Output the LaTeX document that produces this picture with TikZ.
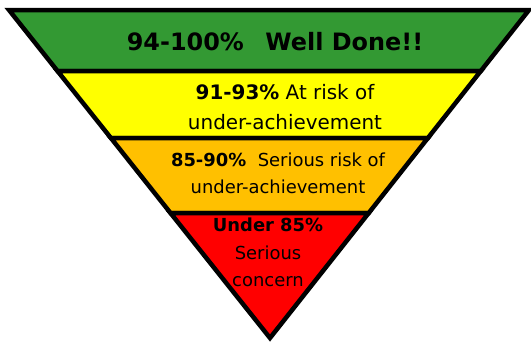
\documentclass[tikz,border=0pt]{standalone}
\usepackage{fontspec}
\setmainfont{DejaVu Sans}
\definecolor{welldone}{HTML}{339933}
\definecolor{atrisk}{HTML}{FFFF00}
\definecolor{seriousrisk}{HTML}{FFC000}
\definecolor{concern}{HTML}{FF0000}

\begin{document}
\begin{tikzpicture}[
                  x = 1bp,
                  y = -1bp,
        band/.style = {draw=black, line width=4.5bp, line join=miter},
     bandtxt/.style = {inner sep=0pt, align=center, text=black},
                   ]
\useasboundingbox (0,0) rectangle (531,342);
% the bands, top to bottom
\fill[welldone, band]    (9,10) -- (529,10) -- (480.8,71) -- (57.5,71) -- cycle;
\fill[atrisk, band]      (57.5,71) -- (480.8,71) -- (427.9,138) -- (110.9,138) -- cycle;
\fill[seriousrisk, band] (110.9,138) -- (427.9,138) -- (368.7,213) -- (170.5,213) -- cycle;
\fill[concern, band]     (170.5,213) -- (368.7,213) -- (270,338) -- cycle;
% texts
\node[bandtxt, font=\fontsize{24}{28}\selectfont\bfseries] (top) at (275,42)
    {94-100\%\hspace{0.9em}Well Done!!};
\node[bandtxt, font=\fontsize{20}{30}\selectfont] (risk) at (285,107)
    {\textbf{91-93\%} At risk of\\under-achievement};
\node[bandtxt, font=\fontsize{18}{27}\selectfont] (serious) at (278,173.5)
    {\textbf{85-90\%}\ \ Serious risk of\\under-achievement};
\node[bandtxt, font=\fontsize{18}{27.5}\selectfont] (under) at (268,252.5)
    {\textbf{Under 85\%}\\Serious\\concern};
\end{tikzpicture}
\end{document}
